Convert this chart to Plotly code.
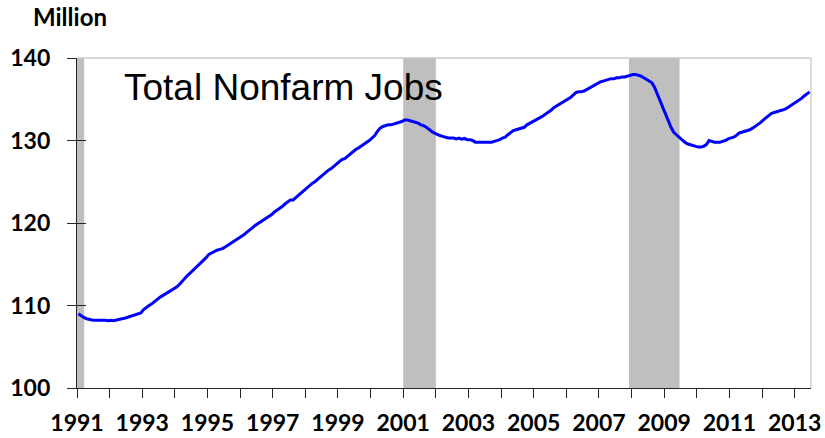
import plotly.graph_objects as go

# ---------------- data ----------------
start_year = 1991
jobs_1991 = [109.0, 108.75, 108.55, 108.4, 108.3, 108.25, 108.2, 108.2, 108.25, 108.2, 108.2, 108.15]
jobs_1992 = [108.2, 108.15, 108.25, 108.3, 108.4, 108.45, 108.55, 108.65, 108.75, 108.85, 108.95, 109.1]
jobs_1993 = [109.5, 109.8, 110.0, 110.2, 110.5, 110.8, 111.0, 111.2, 111.4, 111.5, 111.7, 111.9]
jobs_1994 = [112.2, 112.5, 112.9, 113.3, 113.6, 113.9, 114.2, 114.5, 114.9, 115.2, 115.5, 115.8]
jobs_1995 = [116.2, 116.4, 116.6, 116.7, 116.8, 116.9, 117.1, 117.3, 117.5, 117.7, 117.9, 118.1]
jobs_1996 = [118.3, 118.6, 118.9, 119.1, 119.4, 119.7, 119.9, 120.1, 120.4, 120.6, 120.8, 121.0]
jobs_1997 = [121.3, 121.5, 121.7, 122.0, 122.3, 122.6, 122.8, 122.8, 123.1, 123.4, 123.6, 123.9]
jobs_1998 = [124.3, 124.6, 124.8, 125.0, 125.3, 125.5, 125.8, 126.1, 126.4, 126.6, 126.9, 127.2]
jobs_1999 = [127.4, 127.7, 127.8, 128.1, 128.3, 128.6, 128.9, 129.1, 129.3, 129.5, 129.7, 130.0]
jobs_2000 = [130.3, 130.6, 131.1, 131.5, 131.7, 131.8, 131.9, 131.9, 132.0, 132.1, 132.2, 132.3]
jobs_2001 = [132.5, 132.5, 132.4, 132.3, 132.2, 132.1, 131.9, 131.8, 131.6, 131.3, 131.1, 130.9]
jobs_2002 = [130.7, 130.6, 130.5, 130.4, 130.3, 130.3, 130.3, 130.2, 130.3, 130.15, 130.25, 130.1]
jobs_2003 = [130.1, 130.0, 129.8, 129.8, 129.8, 129.8, 129.8, 129.8, 129.8, 129.9, 130.0, 130.1]
jobs_2004 = [130.3, 130.4, 130.7, 131.0, 131.2, 131.3, 131.4, 131.5, 131.6, 131.9, 132.1, 132.3]
jobs_2005 = [132.4, 132.6, 132.8, 133.0, 133.2, 133.4, 133.7, 134.0, 134.2, 134.4, 134.6, 134.8]
jobs_2006 = [134.9, 135.2, 135.5, 135.8, 135.9, 135.9, 136.0, 136.2, 136.4, 136.5, 136.7, 136.9]
jobs_2007 = [137.1, 137.2, 137.3, 137.4, 137.5, 137.5, 137.6, 137.6, 137.7, 137.7, 137.8, 137.9]
jobs_2008 = [138.0, 138.0, 137.9, 137.8, 137.6, 137.4, 137.2, 137.0, 136.4, 135.6, 134.7, 133.8]
jobs_2009 = [133.0, 132.3, 131.6, 131.0, 130.7, 130.3, 130.0, 129.8, 129.6, 129.5, 129.4, 129.3]
jobs_2010 = [129.2, 129.2, 129.3, 129.5, 130.0, 129.9, 129.8, 129.8, 129.8, 129.9, 130.0, 130.2]
jobs_2011 = [130.3, 130.4, 130.6, 130.9, 131.0, 131.1, 131.2, 131.3, 131.5, 131.7, 131.9, 132.2]
jobs_2012 = [132.5, 132.8, 133.1, 133.3, 133.4, 133.5, 133.6, 133.7, 133.8, 134.0, 134.2, 134.4]
jobs_2013 = [134.6, 134.9, 135.1, 135.4, 135.6, 135.9]

recession_starts = [1991.0, 2001.0, 2007.92]
recession_ends = [1991.22, 2002.0, 2009.47]

tick_years = list(range(1991, 2014))
tick_labels = [str(y) if (y - 1991) % 2 == 0 else "" for y in tick_years]
y_ticks = [100, 110, 120, 130, 140]

# --------------- build ---------------
jobs = (jobs_1991 + jobs_1992 + jobs_1993 + jobs_1994 + jobs_1995 + jobs_1996 + jobs_1997
        + jobs_1998 + jobs_1999 + jobs_2000 + jobs_2001 + jobs_2002 + jobs_2003 + jobs_2004
        + jobs_2005 + jobs_2006 + jobs_2007 + jobs_2008 + jobs_2009 + jobs_2010 + jobs_2011
        + jobs_2012 + jobs_2013)
months_x = [start_year + (i + 0.5) / 12 for i in range(len(jobs))]

fig = go.Figure()
fig.add_trace(go.Scatter(x=months_x, y=jobs, mode="lines",
                         line=dict(color="#0000FF", width=3), showlegend=False,
                         hoverinfo="skip"))
# helper trace for inner tick marks on the overlaid y axis
fig.add_trace(go.Scatter(x=[None], y=[None], yaxis="y2", showlegend=False, hoverinfo="skip"))

for s, e in zip(recession_starts, recession_ends):
    fig.add_shape(type="rect", xref="x", yref="paper", x0=s, x1=e, y0=0, y1=1,
                  fillcolor="#BFBFBF", line_width=0, layer="below")

tick_font = dict(family="Lato", size=23, color="#000000", weight="bold")

fig.update_layout(
    width=825, height=438,
    margin=dict(l=77, r=14, t=58, b=50, autoexpand=False),
    paper_bgcolor="white", plot_bgcolor="white",
    xaxis=dict(range=[1991, 2013.5], tickmode="array", tickvals=tick_years,
               ticktext=tick_labels, ticks="outside", ticklen=9, tickwidth=1.3,
               tickcolor="#262626", showline=True, linecolor="#262626", linewidth=1.3,
               showgrid=False, zeroline=False, tickfont=tick_font,
               ticklabelstandoff=5, automargin=False),
    yaxis=dict(range=[100, 140], tickvals=y_ticks, ticks="outside", ticklen=9,
               tickwidth=1.3, tickcolor="#262626", showline=True, linecolor="#262626",
               linewidth=1.3, showgrid=False, zeroline=False, tickfont=tick_font,
               ticklabelstandoff=12, automargin=False),
    yaxis2=dict(range=[100, 140], tickvals=y_ticks, overlaying="y", side="left",
                ticks="inside", ticklen=9, tickwidth=1.3, tickcolor="#262626",
                showticklabels=False, showline=False, showgrid=False, zeroline=False,
                automargin=False),
)

# light frame on top and right
fig.add_shape(type="line", xref="paper", yref="paper", x0=0, x1=1, y0=1, y1=1,
              line=dict(color="#C8C8C8", width=1.3))
fig.add_shape(type="line", xref="paper", yref="paper", x0=1, x1=1, y0=0, y1=1,
              line=dict(color="#C8C8C8", width=1.3))

fig.add_annotation(text="Total Nonfarm Jobs", xref="paper", yref="paper",
                   x=0.061, y=0.91, xanchor="left", yanchor="middle", showarrow=False,
                   font=dict(family="Liberation Sans", size=37, color="#000000"))
fig.add_annotation(text="Million", xref="paper", yref="paper",
                   x=-0.063, y=1.125, xanchor="left", yanchor="middle", showarrow=False,
                   font=dict(family="Lato", size=24, color="#000000", weight="bold"))

fig.write_html("out.html", config={"displayModeBar": False},
               post_script="document.body.style.margin='0';")
